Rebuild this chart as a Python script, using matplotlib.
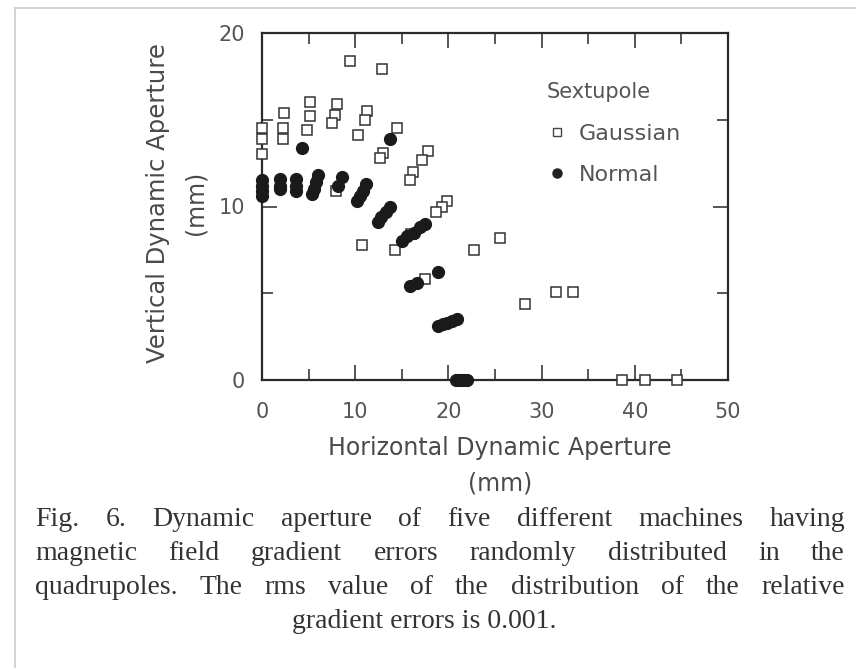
import matplotlib.pyplot as plt
from matplotlib.ticker import MultipleLocator
from matplotlib.lines import Line2D

# Dynamic aperture of five machines, open squares = Gaussian sextupole, filled = normal
gauss_x = [9.4, 12.9, 0.0, 0.0, 0.0, 2.4, 2.3, 2.2, 5.1, 5.1, 4.8, 8.0, 7.8, 7.5,
           11.3, 11.0, 10.3, 14.5, 13.0, 12.7, 17.8, 17.2, 16.2, 15.9, 19.8, 19.3, 18.7,
           10.7, 14.3, 16.0, 22.8, 25.5, 28.2, 31.5, 33.4, 38.6, 41.1, 44.5, 17.5, 7.9]
gauss_y = [18.4, 17.9, 14.5, 13.9, 13.0, 15.4, 14.5, 13.9, 16.0, 15.2, 14.4, 15.9, 15.3, 14.8,
           15.5, 15.0, 14.1, 14.5, 13.1, 12.8, 13.2, 12.7, 12.0, 11.5, 10.3, 10.0, 9.7,
           7.8, 7.5, 8.4, 7.5, 8.2, 4.4, 5.1, 5.1, 0.0, 0.0, 0.0, 5.8, 10.9]

normal_x = [0.0, 0.0, 0.0, 0.0, 1.9, 1.9, 1.9, 3.7, 3.7, 3.7, 6.0, 5.8, 5.6, 5.4,
            8.6, 8.2, 11.2, 10.8, 10.5, 10.2, 13.7, 13.3, 12.8, 12.4,
            17.5, 16.9, 16.3, 15.6, 15.0, 18.9, 16.6, 15.9,
            18.9, 19.4, 19.9, 20.4, 20.9, 20.8, 21.2, 21.6, 22.0, 4.3, 13.7]
normal_y = [11.5, 11.2, 10.9, 10.6, 11.6, 11.2, 11.0, 11.6, 11.2, 10.9, 11.8, 11.4, 11.0, 10.7,
            11.7, 11.2, 11.3, 10.9, 10.6, 10.3, 10.0, 9.7, 9.4, 9.1,
            9.0, 8.8, 8.5, 8.3, 8.0, 6.2, 5.6, 5.4,
            3.1, 3.2, 3.3, 3.4, 3.5, 0.0, 0.0, 0.0, 0.0, 13.4, 13.9]

caption_lines = [
    "Fig. 6. Dynamic aperture of five different machines having",
    "magnetic field gradient errors randomly distributed in the",
    "quadrupoles. The rms value of the distribution of the relative",
]
caption_last = "gradient errors is 0.001."

W, H = 856, 668
fig = plt.figure(figsize=(W / 100, H / 100), dpi=100)
ax = fig.add_axes([262 / W, 1 - 380 / H, 466 / W, 347 / H])

ink = '#3a3a3a'
lab = '#4a4a4a'
ax.plot(gauss_x, gauss_y, ls='none', marker='s', ms=7.5, mfc='white', mec='#333333',
        mew=1.1, clip_on=False, zorder=3)
ax.plot(normal_x, normal_y, ls='none', marker='o', ms=8.5, mfc='#1a1a1a', mec='#1a1a1a',
        clip_on=False, zorder=4)

ax.set_xlim(0, 50)
ax.set_ylim(0, 20)
ax.xaxis.set_major_locator(MultipleLocator(10))
ax.xaxis.set_minor_locator(MultipleLocator(5))
ax.yaxis.set_major_locator(MultipleLocator(10))
ax.yaxis.set_minor_locator(MultipleLocator(5))
ax.tick_params(which='both', direction='in', top=True, right=True, colors=ink,
               labelcolor='#555555', labelsize=15, width=1.2)
ax.tick_params(which='major', length=11)
ax.tick_params(which='minor', length=8)
ax.tick_params(axis='x', which='major', pad=16)
ax.tick_params(axis='y', which='major', pad=12)
for s in ax.spines.values():
    s.set_linewidth(1.6)
    s.set_color('#2a2a2a')

# axis titles, two lines each
fig.text(500 / W, 1 - 448 / H, "Horizontal Dynamic Aperture", fontsize=17,
         color=lab, ha='center', va='center')
fig.text(500 / W, 1 - 484 / H, "(mm)", fontsize=17, color=lab, ha='center', va='center')
fig.text(158 / W, 1 - 203 / H, "Vertical Dynamic Aperture", fontsize=17.5,
         color=lab, ha='center', va='center', rotation=90)
fig.text(196 / W, 1 - 203 / H, "(mm)", fontsize=17, color=lab, ha='center',
         va='center', rotation=90)

handles = [
    Line2D([], [], ls='none', marker='s', ms=6, mfc='white', mec='#444444', label='Gaussian'),
    Line2D([], [], ls='none', marker='o', ms=6.5, mfc='#222222', mec='#222222', label='Normal'),
]
leg = ax.legend(handles=handles, title='Sextupole', loc='upper left',
                bbox_to_anchor=(0.567, 0.915), frameon=False, fontsize=16,
                title_fontsize=15, handletextpad=0.45, handlelength=1.0,
                labelspacing=0.95, alignment='left')
for t in leg.get_texts():
    t.set_color('#555555')
leg.get_title().set_color('#555555')

# justified caption in a serif face
renderer = fig.canvas.get_renderer()
cap_kw = dict(fontsize=20, family='Liberation Serif', color='#333333', va='center')
left_px, right_px = 35, 845
for i, line in enumerate(caption_lines):
    y = 1 - (519 + 34.5 * i) / H
    texts = [fig.text(0, y, w, **cap_kw) for w in line.split()]
    widths = [t.get_window_extent(renderer).width for t in texts]
    gap = (right_px - left_px - sum(widths)) / (len(texts) - 1)
    x = left_px
    for t, w in zip(texts, widths):
        t.set_x(x / W)
        x += w + gap
fig.text(424 / W, 1 - 622 / H, caption_last, ha='center', **cap_kw)

# page frame lines
fig.add_artist(Line2D([15 / W, 1], [1 - 8 / H, 1 - 8 / H], color='#cccccc', lw=1.2))
fig.add_artist(Line2D([15 / W, 15 / W], [0, 1 - 8 / H], color='#cccccc', lw=1.2))

fig.savefig('out.png', dpi=100)
